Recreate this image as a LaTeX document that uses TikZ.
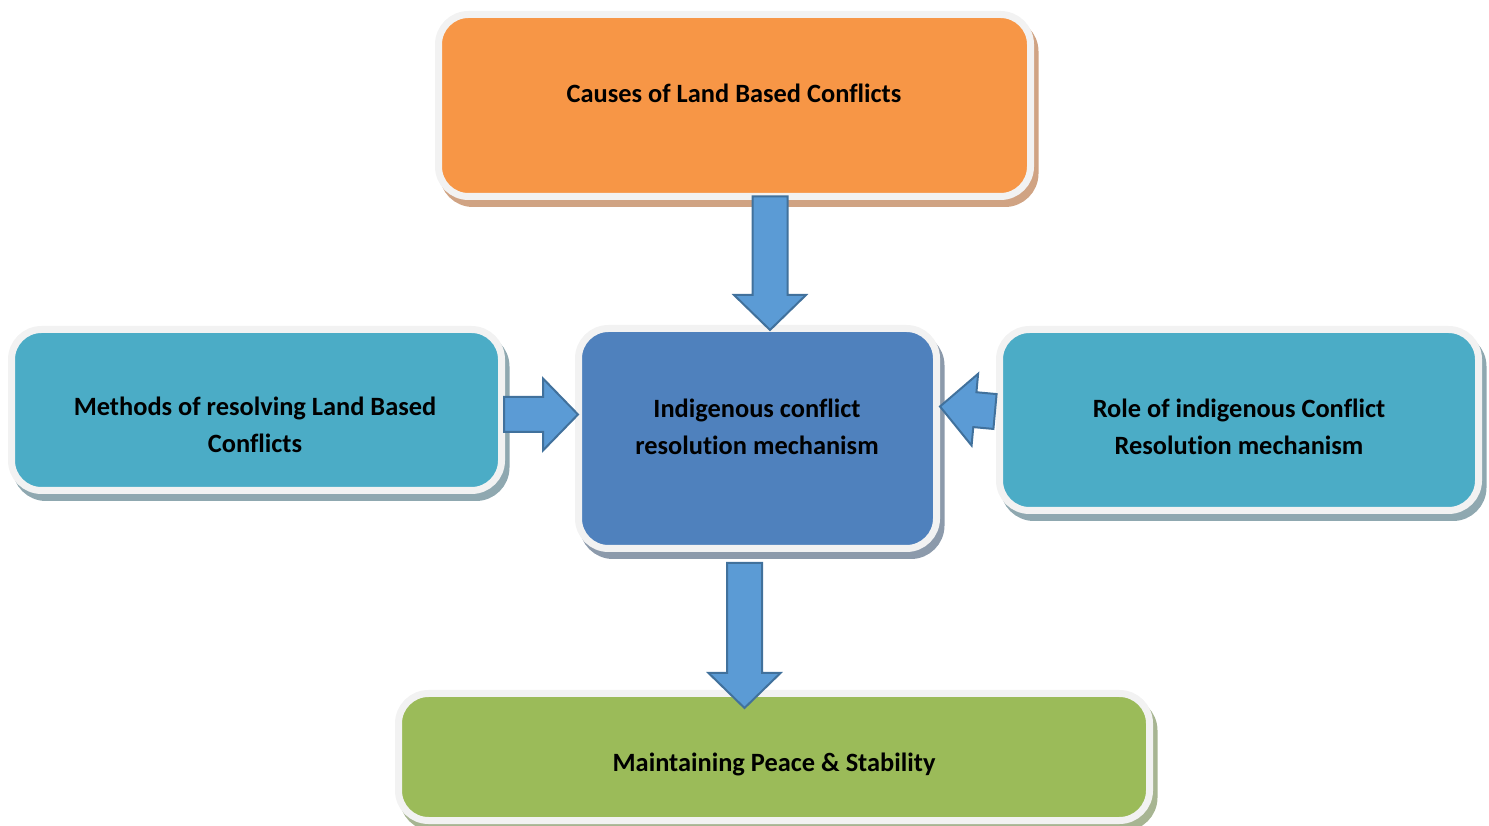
\documentclass[tikz,border=0pt]{standalone}
\usepackage{fontspec}
\setmainfont{Carlito}[Ligatures=NoCommon]
\usepackage{xcolor}
\usetikzlibrary{calc}

\definecolor{framegray}{HTML}{F2F2F2}
\definecolor{causesfill}{HTML}{F79646}
\definecolor{causesshade}{HTML}{D0A383}
\definecolor{sidefill}{HTML}{4BACC6}
\definecolor{sideshade}{HTML}{8FA8B0}
\definecolor{corefill}{HTML}{4F81BD}
\definecolor{coreshade}{HTML}{8C9AAB}
\definecolor{goalfill}{HTML}{9BBB59}
\definecolor{goalshade}{HTML}{A7B592}
\definecolor{arrowfill}{HTML}{5B9BD5}
\definecolor{arrowline}{HTML}{41719C}

% block arrow from #1 to #2
\newcommand{\fatarrow}[2]{%
  \draw[fatarrow] ($(#1)!8.75pt!90:(#2)$)
    -- ($(#2)!17.5pt!(#1)!8.75pt!90:(#2)$)
    -- ($(#2)!17.5pt!(#1)!18pt!90:(#2)$)
    -- (#2)
    -- ($(#2)!17.5pt!(#1)!18pt!-90:(#2)$)
    -- ($(#2)!17.5pt!(#1)!8.75pt!-90:(#2)$)
    -- ($(#1)!8.75pt!-90:(#2)$) -- cycle;}

\begin{document}
\begin{tikzpicture}[
  x=0.5pt, y=0.5pt,
  box/.style={draw=framegray, line width=3.5pt, rounded corners=15pt,
              inner sep=0pt, outer sep=0pt},
  shade/.style={preaction={draw=#1, fill=#1,
              transform canvas={shift={(2.25pt,-3.5pt)}}}},
  txt/.style={font=\fontsize{13.2}{18.5}\selectfont\bfseries, align=center},
  fatarrow/.style={draw=arrowline, fill=arrowfill, line width=1pt, line join=miter}
]
  \useasboundingbox (0,0) rectangle (1489,825);

  % boxes
  \node[box, shade=causesshade, fill=causesfill, minimum width=296pt, minimum height=91pt] (causes) at (734.5,719.5) {};
  \node[box, shade=sideshade, fill=sidefill, minimum width=245pt, minimum height=80.5pt] (methods) at (256.5,415) {};
  \node[box, shade=coreshade, fill=corefill, minimum width=179pt, minimum height=110pt] (core) at (757.5,386.5) {};
  \node[box, shade=sideshade, fill=sidefill, minimum width=239.5pt, minimum height=90.5pt] (role) at (1239,405) {};
  \node[box, shade=goalshade, fill=goalfill, minimum width=375.5pt, minimum height=63.5pt] (goal) at (774,68) {};

  % labels
  \node[txt] (causes-txt) at (734,732) {Causes of Land Based Conflicts};
  \node[txt] (methods-txt) at (255,400) {Methods of resolving Land Based\\Conflicts};
  \node[txt] (core-txt) at (757,398.5) {Indigenous conflict\\resolution mechanism};
  \node[txt] (role-txt) at (1239,398.5) {Role of indigenous Conflict\\Resolution mechanism};
  \node[txt] (goal-txt) at (774,61) {Maintaining Peace \& Stability};

  % arrows
  \coordinate (top-s) at ($(causes.south)+(35.5,0)$);
  \coordinate (top-t) at ($(core.north)+(12.5,-1.5)$);
  \coordinate (left-s) at ($(methods.east)+(2.5,-4.5)$);
  \coordinate (left-t) at ($(core.west)+(-0.5,24)$);
  \coordinate (right-s) at ($(role.west)+(-4.5,8.5)$);
  \coordinate (right-t) at ($(core.east)+(3.5,32)$);
  \coordinate (down-s) at ($(core.south)+(-13,-14.5)$);
  \coordinate (down-t) at ($(goal.north)+(-29.5,-14.5)$);

  \fatarrow{top-s}{top-t}
  \fatarrow{left-s}{left-t}
  \fatarrow{right-s}{right-t}
  \fatarrow{down-s}{down-t}
\end{tikzpicture}
\end{document}
